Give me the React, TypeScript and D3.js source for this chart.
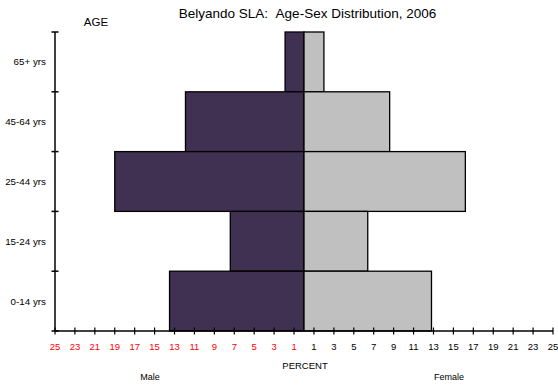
import React from "react";
import * as d3 from "d3";

const ageGroups = ["65+ yrs", "45-64 yrs", "25-44 yrs", "15-24 yrs", "0-14 yrs"];
const maleValues = [1.9, 11.9, 19.0, 7.4, 13.5];
const femaleValues = [2.0, 8.6, 16.2, 6.4, 12.8];
const tickValues = d3.range(-25, 26, 2);

const W = 558;
const H = 389;

export default function App() {
  const x = d3.scaleLinear().domain([-25, 25]).range([55, 553]);
  const y = d3.scaleBand().domain(ageGroups).range([32, 331]).padding(0);
  const font = "Arial, 'Liberation Sans', Helvetica, sans-serif";
  const boundaries = [0, 1, 2, 3, 4, 5].map((i) => 32 + i * y.bandwidth());
  return (
    <svg width={W} height={H} style={{ position: "absolute", left: 0, top: 0 }} fontFamily={font}>
      <rect x={0} y={0} width={W} height={H} fill="#fff" />
      <text x={307.5} y={18} textAnchor="middle" fontSize={13.5} fill="#000">
        Belyando SLA:{"\u00a0\u00a0"}Age-Sex Distribution, 2006
      </text>
      <text x={96} y={26} textAnchor="middle" fontSize={11.5} fill="#000">AGE</text>
      {ageGroups.map((g, i) => (
        <g key={g}>
          <rect
            x={x(-maleValues[i])}
            y={y(g)!}
            width={x(0) - x(-maleValues[i])}
            height={y.bandwidth()}
            fill="#403152"
            stroke="#000"
            strokeWidth={1.3}
          />
          <rect
            x={x(0)}
            y={y(g)!}
            width={x(femaleValues[i]) - x(0)}
            height={y.bandwidth()}
            fill="#c0c0c0"
            stroke="#000"
            strokeWidth={1.3}
          />
          <text
            x={46}
            y={y(g)! + y.bandwidth() / 2}
            dy="0.35em"
            textAnchor="end"
            fontSize={9.8}
            fill="#000"
          >
            {g}
          </text>
        </g>
      ))}
      {/* y axis */}
      <line x1={55} x2={55} y1={32} y2={331} stroke="#000" strokeWidth={1.5} />
      {boundaries.map((b, i) => (
        <line key={i} x1={51.5} x2={58.5} y1={b} y2={b} stroke="#000" strokeWidth={1.5} />
      ))}
      {/* x axis */}
      <line x1={55} x2={553} y1={331} y2={331} stroke="#000" strokeWidth={1.5} />
      {tickValues.map((t) => (
        <g key={t}>
          <line x1={x(t)} x2={x(t)} y1={327.5} y2={334.5} stroke="#000" strokeWidth={1.2} />
          <text
            x={x(t)}
            y={350}
            textAnchor="middle"
            fontSize={9.5}
            fill={t < 0 ? "#ff0000" : "#000"}
          >
            {Math.abs(t)}
          </text>
        </g>
      ))}
      <text x={305} y={369} textAnchor="middle" fontSize={9.5} fill="#000">PERCENT</text>
      <text x={150} y={380} textAnchor="middle" fontSize={9} fill="#000">Male</text>
      <text x={449} y={380} textAnchor="middle" fontSize={9} fill="#000">Female</text>
    </svg>
  );
}
